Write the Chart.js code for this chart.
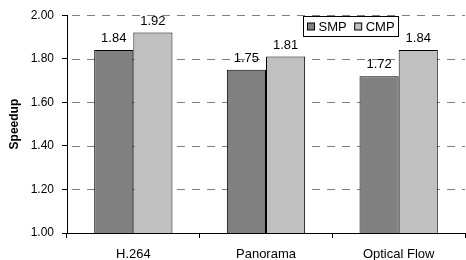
<!DOCTYPE html>
<html>
<head>
<meta charset="utf-8">
<script src="https://cdn.jsdelivr.net/npm/chart.js@4"></script>
<style>
  html, body { margin: 0; padding: 0; background: #fff; }
  #wrap { width: 466px; height: 260px; }
</style>
</head>
<body>
<div id="wrap"><canvas id="speedupChart" width="466" height="260"></canvas></div>
<script>
const categories = ["H.264", "Panorama", "Optical Flow"];
const smpValues = [1.84, 1.75, 1.72];
const cmpValues = [1.92, 1.81, 1.84];
const seriesNames = ["SMP", "CMP"];
const yTicks = [1.00, 1.20, 1.40, 1.60, 1.80, 2.00];

const FONT = "Arial, 'Liberation Sans', sans-serif";

// lignes de grille pointillées (avant les barres)
const dashedGrid = {
    id: "dashedGrid",
    beforeDatasetsDraw(chart) {
        const ctx = chart.ctx;
        const y = chart.scales.y;
        const area = chart.chartArea;
        ctx.save();
        ctx.strokeStyle = "#808080";
        ctx.lineWidth = 1;
        ctx.setLineDash([8, 7]);
        yTicks.forEach(v => {
            if (v === y.min) return;
            const py = Math.round(y.getPixelForValue(v)) + 0.5;
            ctx.beginPath();
            ctx.moveTo(area.left + 5, py);
            ctx.lineTo(area.right, py);
            ctx.stroke();
        });
        ctx.restore();
    }
};

// labels au-dessus des barres + titre de l'axe + légende encadrée
const extras = {
    id: "extras",
    afterDatasetsDraw(chart) {
        const ctx = chart.ctx;
        ctx.save();
        ctx.fillStyle = "#000";
        ctx.font = "13px " + FONT;
        ctx.textAlign = "center";
        ctx.textBaseline = "bottom";
        chart.data.datasets.forEach((ds, i) => {
            chart.getDatasetMeta(i).data.forEach((bar, j) => {
                ctx.fillText(ds.data[j].toFixed(2), bar.x, bar.y - 5);
            });
        });

        // titre de l'axe Y
        ctx.font = "bold 12px " + FONT;
        ctx.translate(15, (chart.chartArea.top + chart.chartArea.bottom) / 2);
        ctx.rotate(-Math.PI / 2);
        ctx.textBaseline = "middle";
        ctx.fillText("Speedup", 0, 0);
        ctx.restore();

        // légende
        ctx.save();
        const lx = 303.5, ly = 16.5, lw = 95, lh = 20;
        ctx.fillStyle = "#fff";
        ctx.fillRect(lx, ly, lw, lh);
        ctx.strokeStyle = "#000";
        ctx.lineWidth = 1;
        ctx.strokeRect(lx, ly, lw, lh);
        ctx.font = "13px " + FONT;
        ctx.textBaseline = "middle";
        ctx.textAlign = "left";
        let x = lx + 4;
        chart.data.datasets.forEach(ds => {
            ctx.fillStyle = ds.backgroundColor;
            ctx.fillRect(x, ly + 6.5, 7, 7);
            ctx.strokeRect(x, ly + 6.5, 7, 7);
            ctx.fillStyle = "#000";
            ctx.fillText(ds.label, x + 11, ly + lh / 2 + 0.5);
            x += 11 + ctx.measureText(ds.label).width + 8;
        });
        ctx.restore();
    }
};

new Chart(document.getElementById("speedupChart"), {
    type: "bar",
    data: {
        labels: categories,
        datasets: [
            { label: seriesNames[0], data: smpValues, backgroundColor: "#808080", borderColor: "#000", borderWidth: 1 },
            { label: seriesNames[1], data: cmpValues, backgroundColor: "#c0c0c0", borderColor: "#000", borderWidth: 1 }
        ]
    },
    options: {
        responsive: false,
        animation: false,
        layout: { padding: { top: 15, right: 1, left: 0, bottom: 0 } },
        datasets: { bar: { categoryPercentage: 0.59, barPercentage: 1 } },
        plugins: { legend: { display: false }, tooltip: { enabled: false } },
        scales: {
            x: {
                grid: { drawOnChartArea: false, tickLength: 5, tickColor: "#000", offset: true },
                border: { color: "#000" },
                ticks: { color: "#000", font: { size: 13, family: FONT }, padding: 9, maxRotation: 0 },
                afterFit(scale) { scale.height = 27; }
            },
            y: {
                min: 1, max: 2,
                afterBuildTicks(scale) { scale.ticks = yTicks.map(v => ({ value: v })); },
                grid: { drawOnChartArea: false, tickLength: 5, tickColor: "#000" },
                border: { color: "#000" },
                ticks: { color: "#000", font: { size: 12, family: FONT }, padding: 8,
                         callback: v => v.toFixed(2) },
                afterFit(scale) { scale.width = 67; }
            }
        }
    },
    plugins: [dashedGrid, extras]
});
</script>
</body>
</html>
